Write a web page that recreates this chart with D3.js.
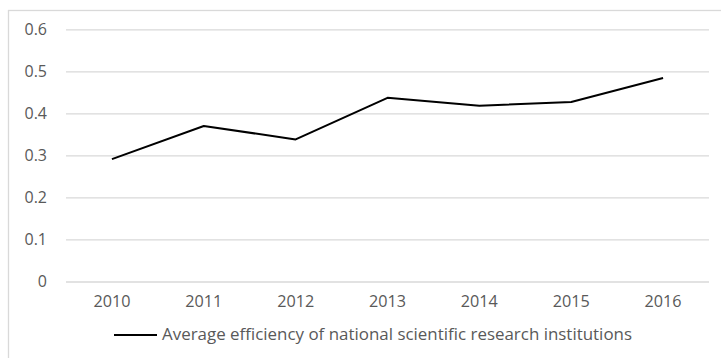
<!DOCTYPE html>
<html>
<head>
<meta charset="utf-8">
<script src="https://cdn.jsdelivr.net/npm/d3@7"></script>
<style>
  html, body { margin: 0; padding: 0; background: #fff; }
  svg { display: block; }
  text { font-family: "Open Sans", Lato, "Liberation Sans", sans-serif; fill: #595959; }
</style>
</head>
<body>
<svg id="chart" width="721" height="358"></svg>
<script>
// Yearly average efficiency of national scientific research institutions
const years = ["2010", "2011", "2012", "2013", "2014", "2015", "2016"];
const efficiency = [0.291, 0.370, 0.338, 0.437, 0.418, 0.427, 0.484];
const yTicks = [0, 0.1, 0.2, 0.3, 0.4, 0.5, 0.6];
const seriesName = "Average efficiency of national scientific research institutions";

const W = 721, H = 358;
const plot = { left: 66, right: 709, top: 29.3, bottom: 281.5 };

const svg = d3.select("#chart");

// outer chart frame (only top and left edges fall inside the view)
svg.append("rect")
  .attr("x", 8.5).attr("y", 10.5)
  .attr("width", W + 10).attr("height", H + 10)
  .attr("fill", "none").attr("stroke", "#d9d9d9").attr("stroke-width", 1.3);

const x = d3.scaleBand().domain(years).range([plot.left, plot.right]);
const y = d3.scaleLinear().domain([0, 0.6]).range([plot.bottom, plot.top]);

// horizontal gridlines + y labels
const yAxis = d3.axisLeft(y)
  .tickValues(yTicks)
  .tickSize(-(plot.right - plot.left))
  .tickPadding(19)
  .tickFormat(d => d === 0 ? "0" : d3.format(".1f")(d));

const gy = svg.append("g").attr("transform", `translate(${plot.left},0)`).call(yAxis);
gy.select(".domain").remove();
gy.selectAll(".tick line").attr("stroke", "#d9d9d9").attr("stroke-width", 1.3);
gy.selectAll(".tick text")
  .attr("fill", "#595959").style("font-size", "16px");

// x labels
const xAxis = d3.axisBottom(x).tickSize(0).tickPadding(14);
const gx = svg.append("g").attr("transform", `translate(0,${plot.bottom})`).call(xAxis);
gx.select(".domain").remove();
gx.selectAll(".tick text")
  .attr("fill", "#595959").style("font-size", "16px")
  .attr("textLength", 37).attr("lengthAdjust", "spacingAndGlyphs");

// data line
const line = d3.line()
  .x((d, i) => x(years[i]) + x.bandwidth() / 2)
  .y(d => y(d));

svg.append("path")
  .datum(efficiency)
  .attr("d", line)
  .attr("fill", "none")
  .attr("stroke", "#000")
  .attr("stroke-width", 2)
  .attr("stroke-linejoin", "round");

// legend
const legY = 335;
svg.append("line")
  .attr("x1", 114).attr("x2", 157)
  .attr("y1", legY).attr("y2", legY)
  .attr("stroke", "#000").attr("stroke-width", 2);
svg.append("text")
  .attr("x", 162).attr("y", legY + 5)
  .attr("textLength", 470).attr("lengthAdjust", "spacingAndGlyphs")
  .style("font-size", "15.5px")
  .text(seriesName);
</script>
</body>
</html>
